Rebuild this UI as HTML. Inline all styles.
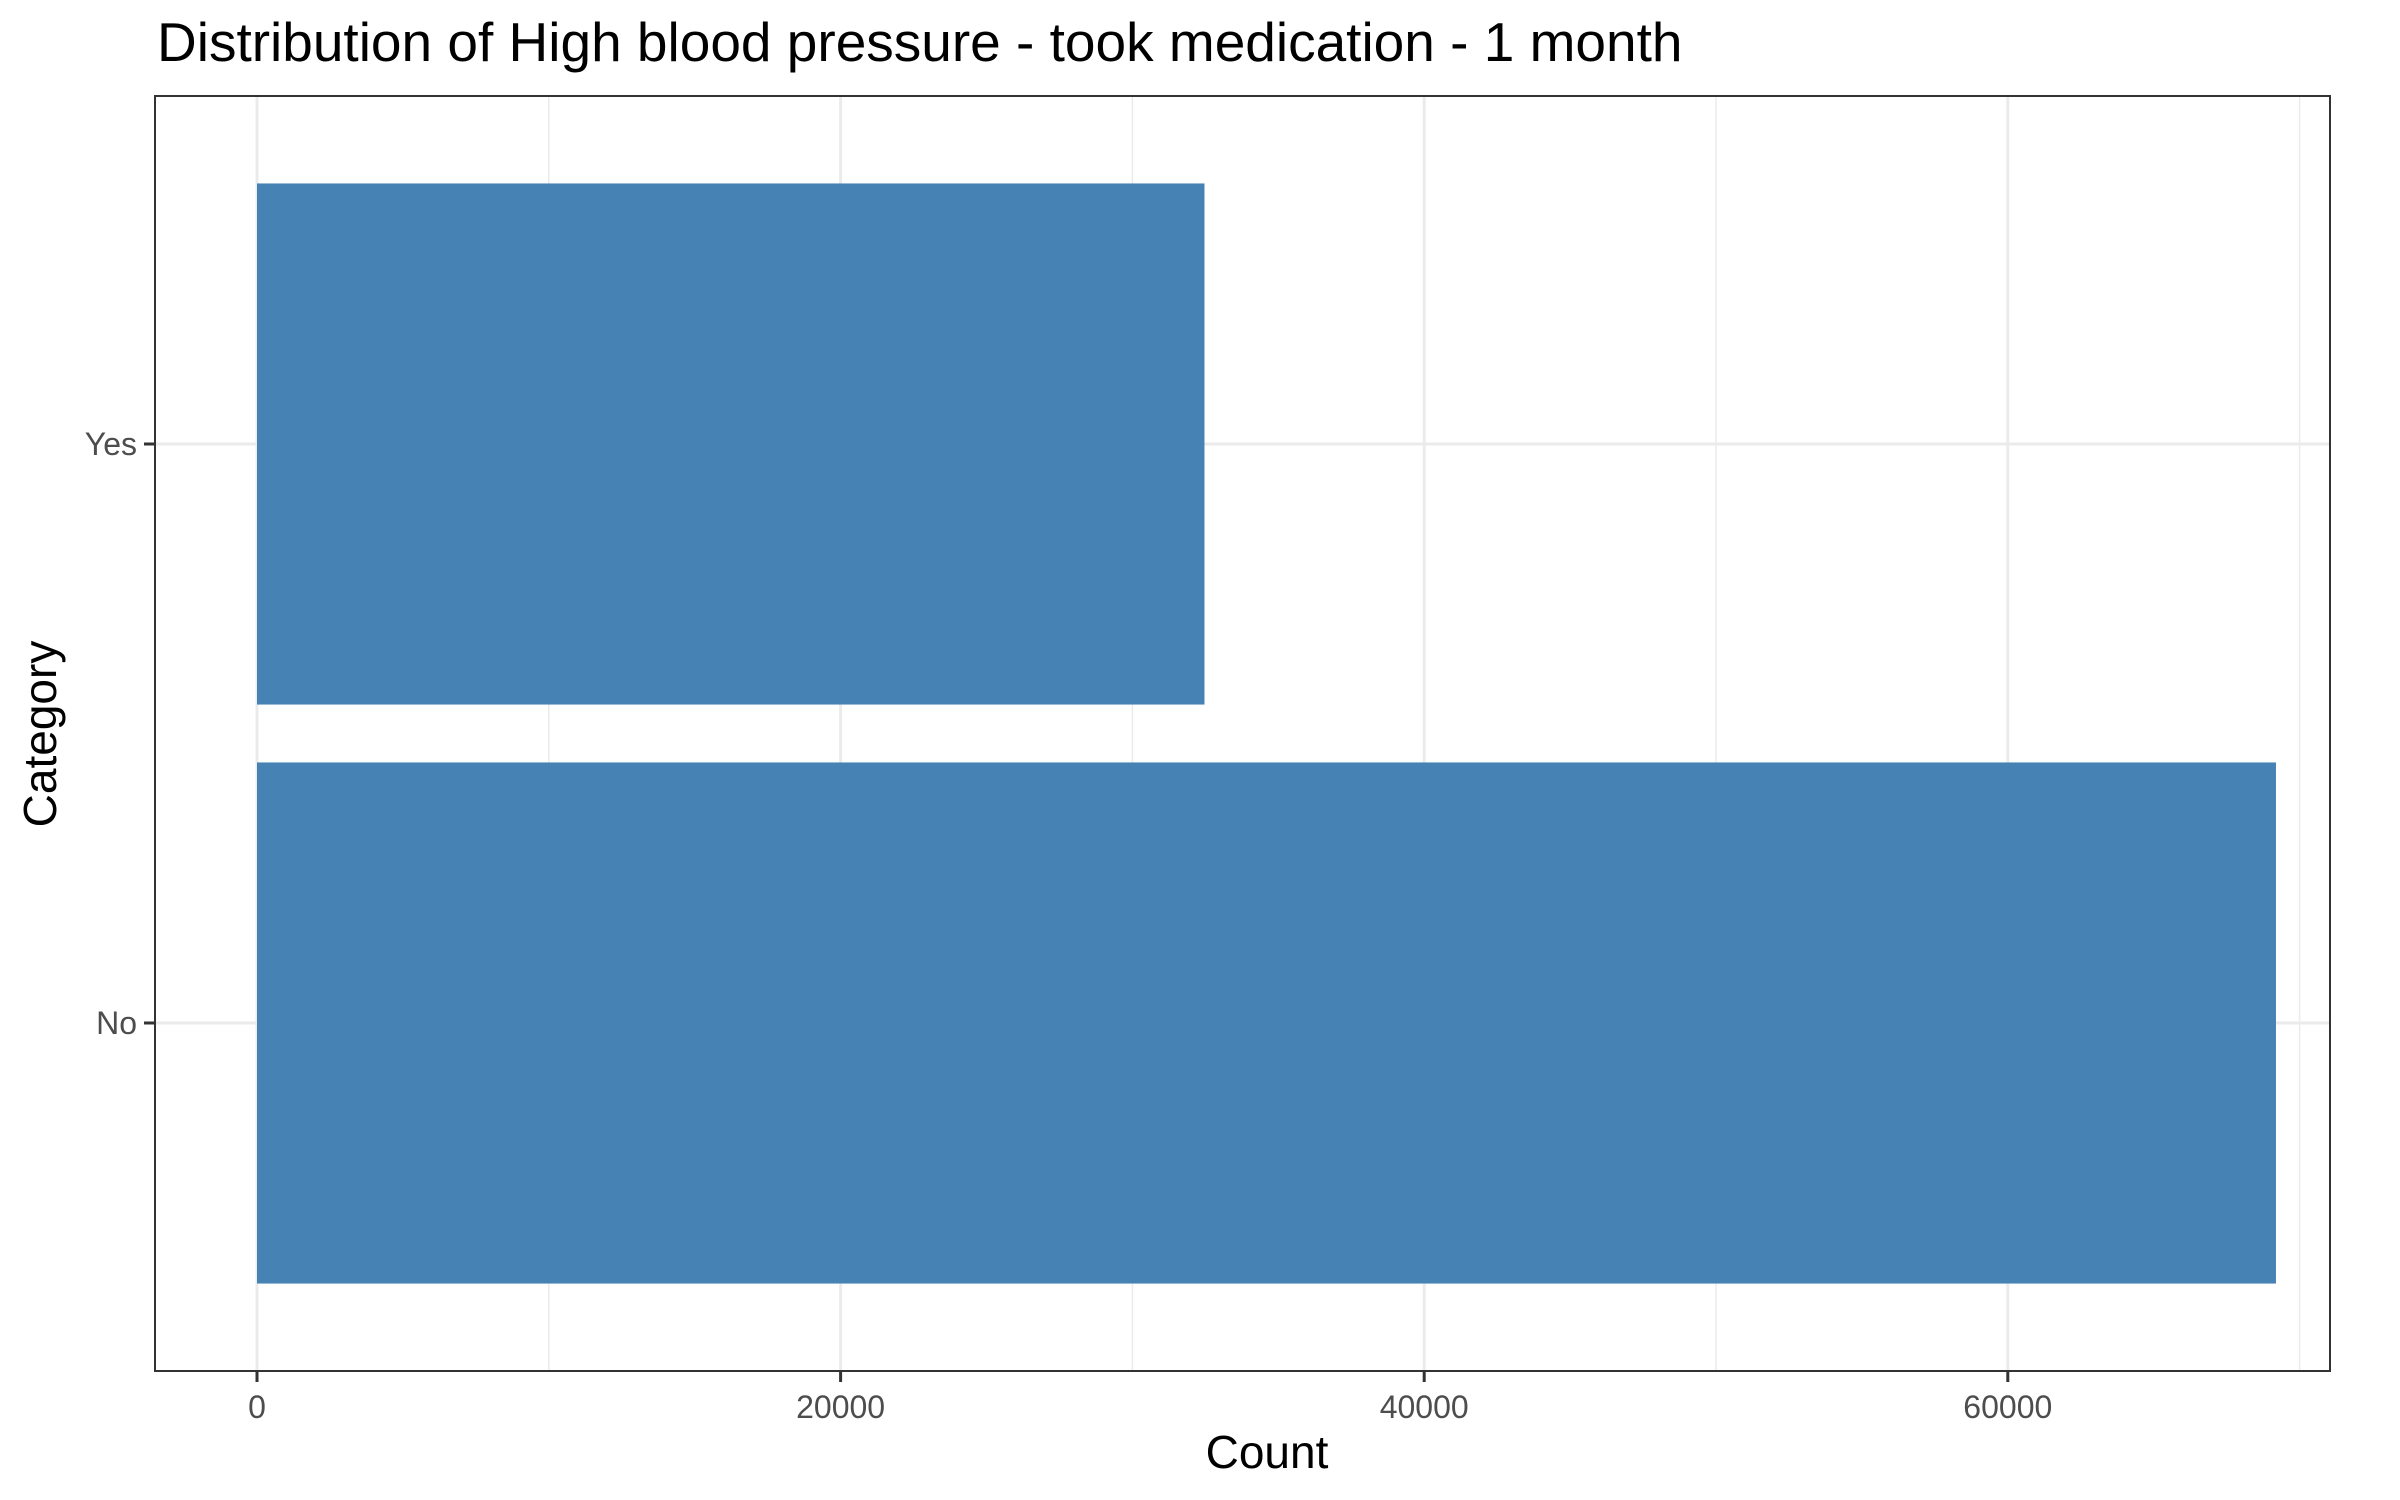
<!DOCTYPE html>
<html><head><meta charset="utf-8"><style>body{margin:0;background:#fff}svg{display:block}text{font-family:"Liberation Sans",Arial,sans-serif}</style></head>
<body>
<svg id="chart" width="2400" height="1500" viewBox="0 0 2400 1500" xmlns="http://www.w3.org/2000/svg">
<text x="157" y="61" font-size="55" fill="#000">Distribution of High blood pressure - took medication - 1 month</text>
<g id="grid"></g><g id="bars"></g><g id="axes"></g>
<rect x="155" y="96" width="2175" height="1275" fill="none" stroke="#333" stroke-width="2"/>
<text x="1267" y="1468" font-size="46" text-anchor="middle" fill="#000">Count</text>
<text transform="translate(56,734) rotate(-90)" font-size="46" text-anchor="middle" fill="#000">Category</text>
</svg>
<script>
const categories = ["No", "Yes"];
const counts = [69190, 32470];
const xTicks = [0, 20000, 40000, 60000];
const xTickLabels = ["0", "20000", "40000", "60000"];
const xMinor = [10000, 30000, 50000, 70000];

const NS = "http://www.w3.org/2000/svg";
const L = 155, R = 2330, T = 96, B = 1371;
const x0 = 257, pxPer = 583.6 / 20000;
const xs = v => x0 + v * pxPer;
const band = 579, yCenterFirst = 1023;
const ys = i => yCenterFirst - i * band;
function mk(tag, attrs, parent) { const e = document.createElementNS(NS, tag); for (const k in attrs) e.setAttribute(k, attrs[k]); parent.appendChild(e); return e; }
const grid = document.getElementById('grid'), bars = document.getElementById('bars'), axes = document.getElementById('axes');
xMinor.forEach(v => {
  const l = mk('line', {x1: xs(v), x2: xs(v), y1: T, y2: B, stroke: '#ebebeb', 'stroke-width': 1.5}, grid);
  
  
});
xTicks.forEach((v, i) => {
  const l = mk('line', {x1: xs(v), x2: xs(v), y1: T, y2: B, stroke: '#ebebeb', 'stroke-width': 3}, grid);
  
  
  const t = mk('line', {x1: xs(v), x2: xs(v), y1: B, y2: B + 11, stroke: '#333', 'stroke-width': 3}, axes);
  
  
  const tx = mk('text', {x: xs(v), y: B + 47, 'font-size': 32, fill: '#4d4d4d', 'text-anchor': 'middle'}, axes);
  tx.textContent = xTickLabels[i];
  
  
});
categories.forEach((c, i) => {
  const y = ys(i);
  const g = mk('line', {x1: L, x2: R, y1: y, y2: y, stroke: '#ebebeb', 'stroke-width': 3}, grid);
  
  
  const bw = band * 0.9;
  const r = mk('rect', {x: xs(0), y: y - bw / 2, width: xs(counts[i]) - xs(0), height: bw, fill: '#4682b4'}, bars);
  
  
  const t = mk('line', {x1: L - 11, x2: L, y1: y, y2: y, stroke: '#333', 'stroke-width': 3}, axes);
  
  
  const tx = mk('text', {x: L - 18, y: y + 11, 'font-size': 32, fill: '#4d4d4d', 'text-anchor': 'end'}, axes);
  tx.textContent = c;
  
  
});
</script>
</body></html>
